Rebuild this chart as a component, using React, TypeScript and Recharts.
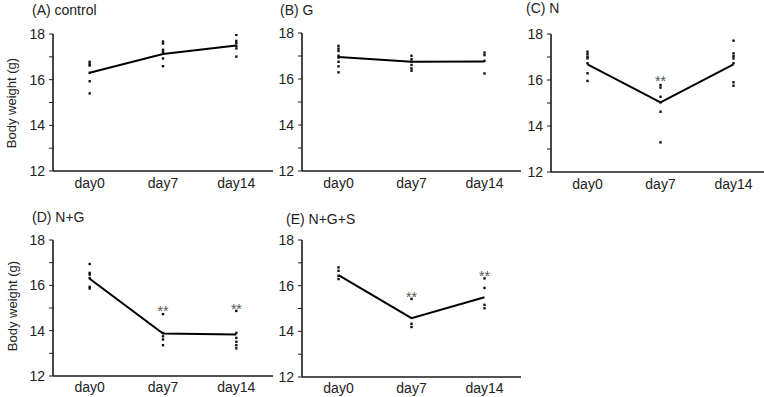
import React from 'react';
import { ComposedChart, Line, Scatter, XAxis, YAxis } from 'recharts';

const categories = ['day0', 'day7', 'day14'];
const yTicks = [12, 13, 14, 15, 16, 17, 18];
const yLabelTicks = [12, 14, 16, 18];

// (A) control
const meanA = [16.3, 17.12, 17.5];
const ptsA = [
  [16.78, 16.68, 16.62, 16.3, 15.93, 15.4],
  [17.67, 17.58, 17.31, 17.22, 16.93, 16.59],
  [17.96, 17.7, 17.6, 17.48, 17.37, 17.01],
];
const starsA: (number | null)[] = [null, null, null];

// (B) G
const meanB = [16.96, 16.75, 16.76];
const ptsB = [
  [17.44, 17.32, 17.22, 17.01, 16.93, 16.75, 16.55, 16.29],
  [17.01, 16.86, 16.75, 16.61, 16.46, 16.36],
  [17.15, 17.04, 16.79, 16.24],
];
const starsB: (number | null)[] = [null, null, null];

// (C) N
const meanC = [16.68, 15.03, 16.68];
const ptsC = [
  [17.23, 17.12, 17.01, 16.94, 16.73, 16.29, 15.96],
  [15.78, 15.67, 15.27, 15.03, 14.62, 13.29],
  [17.71, 17.16, 17.04, 16.94, 16.73, 15.9, 15.75],
];
const starsC: (number | null)[] = [null, 16.07, null];

// (D) N+G
const meanD = [16.29, 13.87, 13.83];
const ptsD = [
  [16.94, 16.55, 16.47, 16.32, 15.93, 15.86],
  [14.73, 13.9, 13.75, 13.61, 13.36],
  [14.87, 13.9, 13.68, 13.51, 13.36, 13.22],
];
const starsD: (number | null)[] = [null, 15.01, 15.09];

// (E) N+G+S
const meanE = [16.46, 14.58, 15.49];
const ptsE = [
  [16.8, 16.65, 16.43, 16.29],
  [15.42, 14.33, 14.19],
  [16.32, 15.9, 15.16, 15.01],
];
const starsE: (number | null)[] = [null, 15.64, 16.55];

const FONT = '"Liberation Sans", Arial, Helvetica, sans-serif';
const AXIS = '#1a1a1a';

type PanelProps = {
  mean: number[];
  pts: number[][];
  stars: (number | null)[];
  plotX: number;
  plotY: number;
  plotW: number;
  plotH: number;
  labelGap: number;
};

const YAW = 40;
const TOP = 10;
const XAH = 26;
const RIGHT = 4;

const YTick = (props: any) => {
  const { x, y, payload } = props;
  if (!yLabelTicks.includes(payload.value)) return <g />;
  return (
    <text x={x} y={y} textAnchor="end" dominantBaseline="central" fontSize={14} fill="#222" fontFamily={FONT}>
      {payload.value}
    </text>
  );
};

const Dot = (props: any) => {
  const { cx, cy } = props;
  if (cx == null || cy == null) return <g />;
  return <rect x={cx - 1.2} y={cy - 1.2} width={2.4} height={2.4} fill="#111" />;
};

const Star = (props: any) => {
  const { cx, cy } = props;
  if (cx == null || cy == null) return <g />;
  return (
    <text x={cx} y={cy + 8} textAnchor="middle" fontSize={14} fill="#555" fontFamily={FONT}>
      **
    </text>
  );
};

function Panel({ mean, pts, stars, plotX, plotY, plotW, plotH, labelGap }: PanelProps) {
  const meanData = mean.map((v, i) => ({ x: i, y: v }));
  const dotData = pts.flatMap((arr, i) => arr.map((v) => ({ x: i, y: v })));
  const starData = stars
    .map((v, i) => (v == null ? null : { x: i, y: v }))
    .filter((d) => d != null) as { x: number; y: number }[];
  const width = plotW + YAW + RIGHT;
  const height = plotH + TOP + XAH;
  return (
    <div style={{ position: 'absolute', left: plotX - YAW, top: plotY - TOP }}>
      <ComposedChart width={width} height={height} data={meanData} margin={{ top: TOP, right: RIGHT, bottom: 0, left: 0 }}>
        <XAxis
          dataKey="x"
          type="number"
          domain={[-0.5, 2.5]}
          ticks={[0, 1, 2]}
          tickFormatter={(v: number) => categories[v]}
          tickLine={false}
          tickSize={0}
          tickMargin={labelGap}
          height={XAH}
          axisLine={{ stroke: AXIS, strokeWidth: 1.6 }}
          tick={{ fontSize: 14, fill: '#222', fontFamily: FONT }}
          allowDataOverflow
        />
        <YAxis
          type="number"
          domain={[12, 18]}
          ticks={yTicks}
          interval={0}
          width={YAW}
          tickSize={4}
          tickMargin={4}
          axisLine={{ stroke: AXIS, strokeWidth: 1.6 }}
          tickLine={{ stroke: AXIS, strokeWidth: 1 }}
          tick={<YTick />}
          allowDataOverflow
        />
        <Scatter data={dotData} dataKey="y" shape={<Dot />} isAnimationActive={false} />
        <Line dataKey="y" type="linear" stroke="#000" strokeWidth={2} dot={false} activeDot={false} isAnimationActive={false} />
        {starData.length > 0 && (
          <Scatter data={starData} dataKey="y" shape={<Star />} isAnimationActive={false} />
        )}
      </ComposedChart>
    </div>
  );
}

const titles = [
  { text: '(A) control', x: 32, y: 15 },
  { text: '(B) G', x: 280, y: 15 },
  { text: '(C) N', x: 526, y: 13 },
  { text: '(D) N+G', x: 32, y: 222 },
  { text: '(E) N+G+S', x: 286, y: 224 },
];

const yTitles = [
  { text: 'Body weight (g)', x: 11, y: 103 },
  { text: 'Body weight (g)', x: 12, y: 306 },
];

export default function App() {
  return (
    <div style={{ position: 'absolute', left: 0, top: 0, width: 764, height: 397, overflow: 'hidden', background: '#fff' }}>
      <Panel mean={meanA} pts={ptsA} stars={starsA} plotX={53} plotY={34} plotW={220} plotH={137} labelGap={7} />
      <Panel mean={meanB} pts={ptsB} stars={starsB} plotX={302} plotY={33} plotW={219} plotH={138} labelGap={7} />
      <Panel mean={meanC} pts={ptsC} stars={starsC} plotX={551} plotY={34} plotW={219} plotH={138} labelGap={7} />
      <Panel mean={meanD} pts={ptsD} stars={starsD} plotX={53} plotY={240} plotH={136} plotW={220} labelGap={6} />
      <Panel mean={meanE} pts={ptsE} stars={starsE} plotX={302} plotY={240} plotW={219} plotH={137} labelGap={6} />
      <svg width={764} height={397} style={{ position: 'absolute', left: 0, top: 0, pointerEvents: 'none' }}>
        {titles.map((t) => (
          <text key={t.text} x={t.x} y={t.y} fontSize={14} fill="#222" fontFamily={FONT}>
            {t.text}
          </text>
        ))}
        {yTitles.map((t, i) => (
          <text
            key={i}
            x={t.x}
            y={t.y}
            fontSize={13}
            fill="#222"
            fontFamily={FONT}
            textAnchor="middle"
            dominantBaseline="central"
            transform={`rotate(-90 ${t.x} ${t.y})`}
          >
            {t.text}
          </text>
        ))}
      </svg>
    </div>
  );
}
